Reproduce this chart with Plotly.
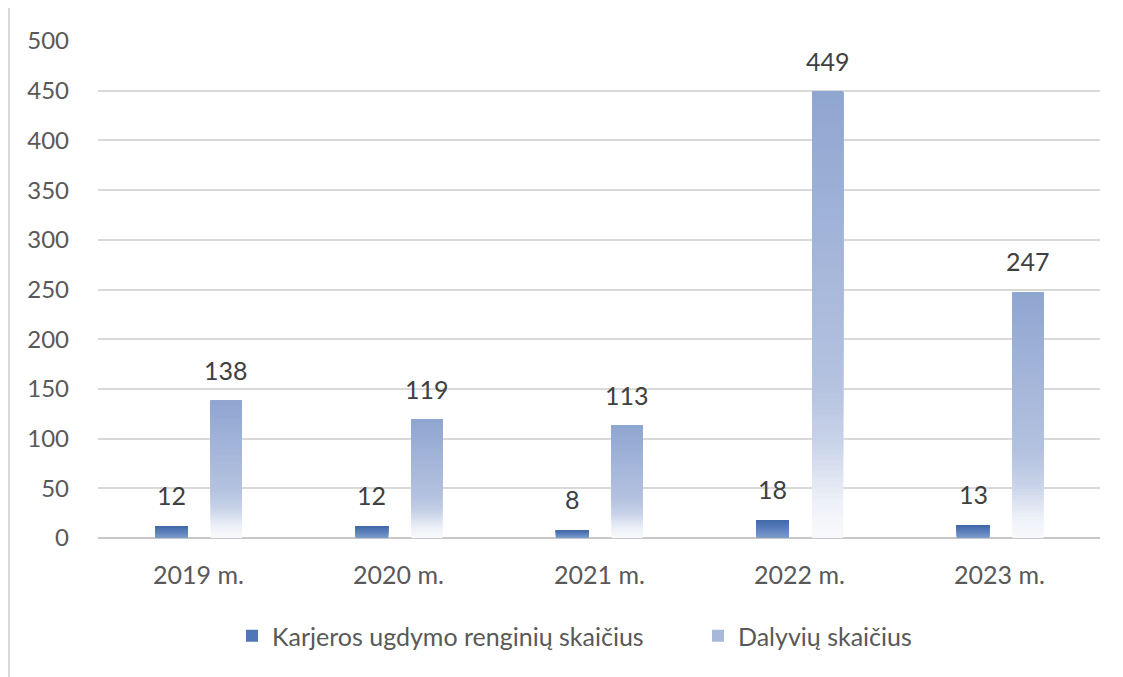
import plotly.graph_objects as go

categories = ["2019 m.", "2020 m.", "2021 m.", "2022 m.", "2023 m."]
renginiai = [12, 12, 8, 18, 13]
dalyviai = [138, 119, 113, 449, 247]
series_names = ["Karjeros ugdymo renginių skaičius", "Dalyvių skaičius"]

# page has an 8px body margin, so figure coordinates are shifted by 8px
SH = 8
W, H = 1123, 677
L, R, T, B = 98 - SH, 31, 41 - SH, 147
PW, PH = W - L - R, H - T - B

def hex2rgb(h):
    h = h.lstrip("#")
    return [int(h[i:i + 2], 16) for i in (0, 2, 4)]

def interp(stops, f):
    for (f0, c0), (f1, c1) in zip(stops, stops[1:]):
        if f0 <= f <= f1:
            t = 0 if f1 == f0 else (f - f0) / (f1 - f0)
            a, b = hex2rgb(c0), hex2rgb(c1)
            return "rgb(%d,%d,%d)" % tuple(round(a[k] + (b[k] - a[k]) * t) for k in range(3))
    return stops[-1][1]

light_stops = [(0.0, "#F8F9FC"), (0.08, "#EEF1F8"), (0.22, "#C7D2E8"), (0.35, "#B4C2E0"),
               (0.7, "#A1B3D8"), (1.0, "#8FA6D0")]
dark_stops = [(0.0, "#7E9DCC"), (0.5, "#5B80BC"), (1.0, "#4169A8")]

xs = list(range(len(categories)))
off_dark, w_dark = -0.215, 0.163
off_light, w_light = 0.063, 0.155

fig = go.Figure()

def add_gradient(values, stops, offset, width, n, name, legend_color, rank):
    for i in range(n):
        f = (i + 0.5) / n
        fig.add_trace(go.Bar(
            x=xs, y=[v * (1 - i / n) for v in values], base=[v * i / n for v in values],
            offset=offset, width=width,
            marker=dict(color=interp(stops, f), line=dict(width=0)),
            showlegend=False, hoverinfo="skip",
        ))
    fig.add_trace(go.Bar(
        x=xs, y=[0] * len(values), offset=offset, width=width,
        marker=dict(color=legend_color, line=dict(width=0)),
        name=name, showlegend=True, legendrank=rank, hoverinfo="skip",
    ))

add_gradient(renginiai, dark_stops, off_dark, w_dark, 20, series_names[0], "#4F77B5", 1)
add_gradient(dalyviai, light_stops, off_light, w_light, 80, series_names[1], "#A7B8DA", 2)

for vals, off, w in ((renginiai, off_dark, w_dark), (dalyviai, off_light, w_light)):
    for x, v in zip(xs, vals):
        fig.add_annotation(x=x + off + w / 2, y=v, text=str(v), showarrow=False,
                           yanchor="middle", yshift=31,
                           font=dict(family="Lato", size=25, color="#404040"))

for x, c in zip(xs, categories):
    fig.add_annotation(x=x, y=0, text=c, showarrow=False, yanchor="middle", yshift=-36,
                       font=dict(family="Lato", size=25, color="#595959"))

# chart frame
fx = (9 - SH - L) / PW
fy = (H - B - (7 - SH)) / PH
fig.add_shape(type="line", xref="paper", yref="paper", x0=fx, x1=fx, y0=-0.4, y1=fy,
              line=dict(color="#D9D9D9", width=2))
fig.add_shape(type="line", xref="paper", yref="paper", x0=fx, x1=1.2, y0=fy, y1=fy,
              line=dict(color="#D9D9D9", width=2))

fig.update_layout(
    width=W, height=H,
    margin=dict(l=L, r=R, t=T, b=B, autoexpand=False),
    paper_bgcolor="white", plot_bgcolor="white",
    barmode="overlay",
    font=dict(family="Lato", color="#595959", size=24),
    xaxis=dict(range=[-0.5, 4.5], showticklabels=False, showgrid=False,
               zeroline=False, showline=False, ticks="", fixedrange=True),
    yaxis=dict(range=[0, 500], dtick=50, showgrid=True, gridcolor="#D9D9D9", gridwidth=1.5,
               zeroline=True, zerolinecolor="#C8C8C8", zerolinewidth=2, showline=False,
               ticks="", ticklabelstandoff=28, tickfont=dict(size=24, color="#595959")),
    legend=dict(orientation="h", x=(232 - SH - L) / PW, xanchor="left",
                y=(H - B - (636 - SH)) / PH, yanchor="middle",
                font=dict(size=25, color="#595959"), itemwidth=30, traceorder="normal",
                entrywidth=421, entrywidthmode="pixels"),
    showlegend=True,
)

fig.write_html("out.html")
